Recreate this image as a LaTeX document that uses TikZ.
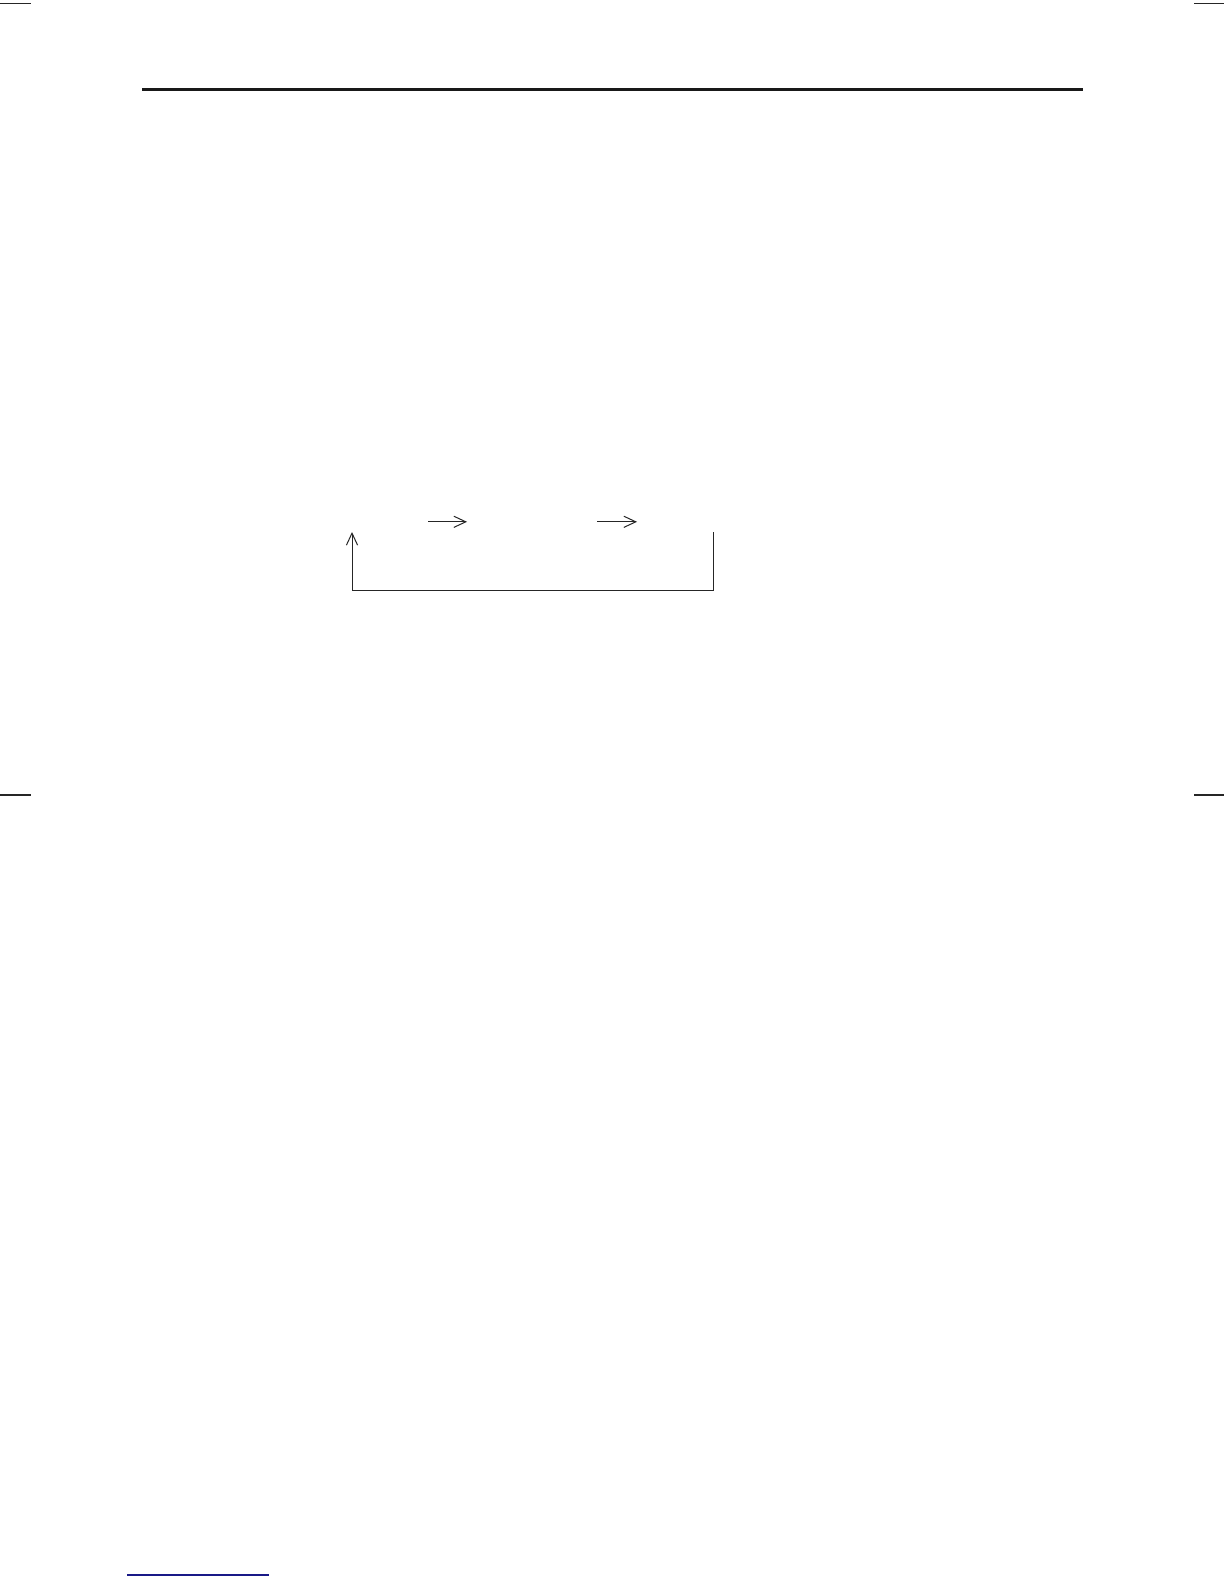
\documentclass[tikz,border=0pt]{standalone}
\usetikzlibrary{arrows.meta}
\definecolor{navyrule}{RGB}{25,25,135}
\begin{document}
\begin{tikzpicture}[x=0.5pt,y=-0.5pt,
  cropmark/.style={line width=0.55pt,black!85},
  headrule/.style={line width=1.5pt,black!90},
  footrule/.style={line width=0.6pt,navyrule},
  conn/.style={line width=0.5pt,black!85},
  tipped/.style={-{Straight Barb[length=6pt,width=5.6pt,line width=0.5pt]}},
]
\useasboundingbox[fill=white] (0,0) rectangle (1224,1584);
% crop marks
\coordinate (tl1) at (0,3.5);   \coordinate (tl2) at (31,3.5);
\coordinate (tr1) at (1194,3.5); \coordinate (tr2) at (1224,3.5);
\coordinate (ml1) at (0,795);   \coordinate (ml2) at (31,795);
\coordinate (mr1) at (1194,795); \coordinate (mr2) at (1224,795);
\draw[cropmark] (tl1) -- (tl2);
\draw[cropmark] (tr1) -- (tr2);
\draw[cropmark] (ml1) -- (ml2);
\draw[cropmark] (mr1) -- (mr2);
% header rule
\coordinate (hr1) at (142,90); \coordinate (hr2) at (1083,90);
\draw[headrule] (hr1) -- (hr2);
% footnote rule
\coordinate (fr1) at (127,1575); \coordinate (fr2) at (269,1575);
\draw[footrule] (fr1) -- (fr2);
% arrows
\coordinate (a1s) at (428,521.8); \coordinate (a1e) at (467,521.8);
\coordinate (a2s) at (597,521.8); \coordinate (a2e) at (637,521.8);
\draw[conn,tipped] (a1s) -- (a1e);
\draw[conn,tipped] (a2s) -- (a2e);
% feedback loop
\coordinate (ltop) at (352,532); \coordinate (lbot) at (352,590);
\coordinate (rtop) at (713,532); \coordinate (rbot) at (713,590);
\draw[conn,tipped] (rtop) -- (rbot) -- (lbot) -- (ltop);
\end{tikzpicture}
\end{document}
